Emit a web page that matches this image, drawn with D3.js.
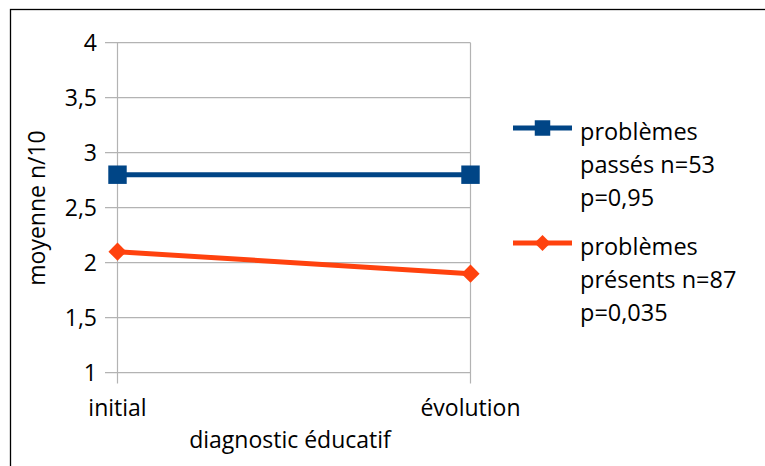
<!DOCTYPE html>
<html><head><meta charset="utf-8">
<script src="https://cdn.jsdelivr.net/npm/d3@7"></script>
<style>body{margin:0;background:#fff}svg{display:block}text{font-family:"Open Sans",sans-serif;fill:#000}</style>
</head><body>
<svg id="c" width="765" height="466"></svg>
<script>
const categories = ["initial", "évolution"];
const seriesNames = [["problèmes", "passés n=53", "p=0,95"], ["problèmes", "présents n=87", "p=0,035"]];
const passes = [2.8, 2.8];
const presents = [2.1, 1.9];
const yTicks = [1, 1.5, 2, 2.5, 3, 3.5, 4];
const colors = ["#004586", "#ff420e"];

const svg = d3.select("#c");
svg.append("rect").attr("x", 10.5).attr("y", 9.5).attr("width", 800).attr("height", 500)
  .attr("fill", "none").attr("stroke", "#000").attr("stroke-width", 1.3);

const x = d3.scalePoint().domain(categories).range([117.5, 470.5]).padding(0);
const y = d3.scaleLinear().domain([1, 4]).range([372.7, 42.7]);
const fmt = d => String(d).replace(".", ",");
const FS = 23;

const g = svg.append("g");
g.selectAll("line.h").data(yTicks).join("line")
  .attr("x1", 105).attr("x2", 470.5).attr("y1", d => y(d)).attr("y2", d => y(d))
  .attr("stroke", "#b3b3b3").attr("stroke-width", 1.2);
g.selectAll("line.v").data(categories).join("line")
  .attr("x1", d => x(d)).attr("x2", d => x(d)).attr("y1", y(4)).attr("y2", 383.5)
  .attr("stroke", "#b3b3b3").attr("stroke-width", 1.2);

g.selectAll("text.yt").data(yTicks).join("text")
  .attr("x", 97).attr("y", d => y(d)).attr("dy", "0.36em").attr("text-anchor", "end")
  .attr("font-size", FS).text(fmt);
g.selectAll("text.xt").data(categories).join("text")
  .attr("x", d => x(d)).attr("y", 416).attr("text-anchor", "middle")
  .attr("font-size", FS).text(d => d);

svg.append("text").attr("x", 290).attr("y", 448).attr("text-anchor", "middle")
  .attr("font-size", FS).text("diagnostic éducatif");
svg.append("text").attr("transform", "translate(45,208) rotate(-90)").attr("text-anchor", "middle")
  .attr("font-size", FS).text("moyenne n/10");

const line = d3.line().x((d, i) => x(categories[i])).y(d => y(d));
const data = [passes, presents];
data.forEach((vals, si) => {
  svg.append("path").attr("d", line(vals)).attr("fill", "none")
    .attr("stroke", colors[si]).attr("stroke-width", 5);
});
const sq = d3.symbol().type(d3.symbolSquare).size(340);
const dm = d3.symbol().type(d3.symbolSquare).size(165);
svg.selectAll("path.m1").data(passes).join("path")
  .attr("transform", (d, i) => `translate(${x(categories[i])},${y(d)})`).attr("d", sq()).attr("fill", colors[0]);
svg.selectAll("path.m2").data(presents).join("path")
  .attr("transform", (d, i) => `translate(${x(categories[i])},${y(d)}) rotate(45)`).attr("d", dm()).attr("fill", colors[1]);

const legY = [128, 243];
const legMarkers = [d3.symbol().type(d3.symbolSquare).size(240), d3.symbol().type(d3.symbolSquare).size(130)];
const legRot = [0, 45];
seriesNames.forEach((lines, si) => {
  const lg = svg.append("g");
  lg.append("line").attr("x1", 513).attr("x2", 572).attr("y1", legY[si]).attr("y2", legY[si])
    .attr("stroke", colors[si]).attr("stroke-width", 5);
  lg.append("path").attr("transform", `translate(542.5,${legY[si]}) rotate(${legRot[si]})`).attr("d", legMarkers[si]()).attr("fill", colors[si]);
  lines.forEach((t, k) => {
    lg.append("text").attr("x", 580).attr("y", legY[si] + 12 + k * 33).attr("font-size", 23.5).text(t);
  });
});
</script>
</body></html>
